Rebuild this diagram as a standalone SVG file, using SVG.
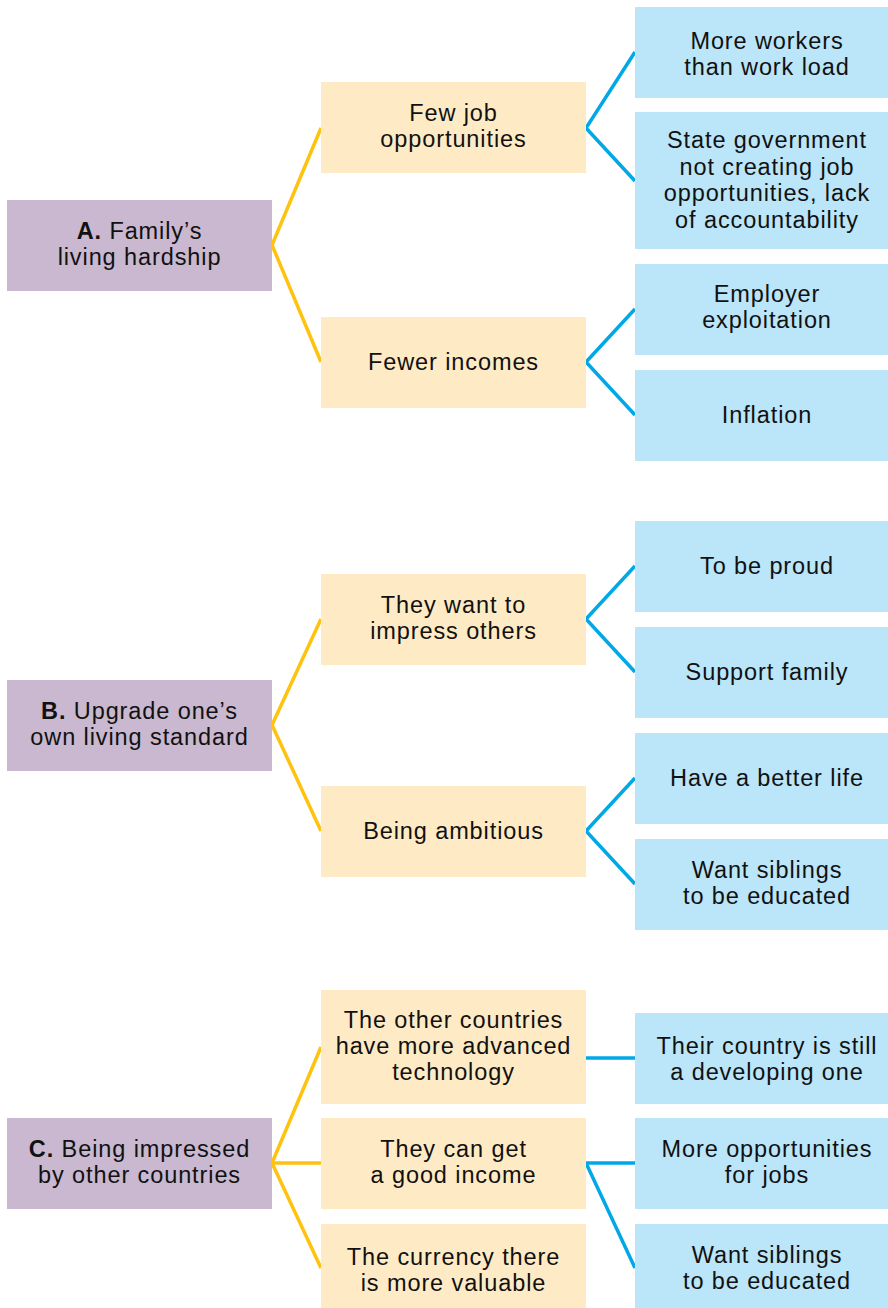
<svg xmlns="http://www.w3.org/2000/svg" width="888" height="1308" viewBox="0 0 888 1308">
<style>
.p{fill:#c9b8d0}
.t{fill:#feebc6}
.b{fill:#bbe5f8}
text{font-family:"Liberation Sans",Arial,sans-serif;font-size:23.5px;fill:#111;text-anchor:middle;letter-spacing:0.9px}
.y{stroke:#ffc20e;stroke-width:3.5;fill:none}
.c{stroke:#00a8e6;stroke-width:3.5;fill:none}
</style>
<rect width="888" height="1308" fill="#fff"/>
<g id="connectors">
<polyline class="y" points="321,128 272,245 321,362"/>
<polyline class="c" points="635,52 586,128 635,181"/>
<polyline class="c" points="635,309 586,362 635,415"/>
<polyline class="y" points="321,619 272,725 321,831"/>
<polyline class="c" points="635,566 586,619 635,672"/>
<polyline class="c" points="635,778 586,831 635,884"/>
<polyline class="y" points="321,1047 272,1163 321,1268"/>
<line class="y" x1="272" y1="1163" x2="321" y2="1163"/>
<line class="c" x1="586" y1="1058" x2="635" y2="1058"/>
<polyline class="c" points="635,1163 586,1163 635,1268"/>
</g>
<g id="A">
<rect class="p" x="7" y="200" width="265" height="91"/>
<text x="139.5" y="239"><tspan font-weight="bold">A.</tspan> Family’s</text>
<text x="139.5" y="265">living hardship</text>
</g>
<g id="A1">
<rect class="t" x="321" y="82" width="265" height="91"/>
<text x="453.5" y="121">Few job</text>
<text x="453.5" y="147">opportunities</text>
</g>
<g id="A2">
<rect class="t" x="321" y="317" width="265" height="91"/>
<text x="453.5" y="370">Fewer incomes</text>
</g>
<g id="A1a">
<rect class="b" x="635" y="7" width="253" height="91"/>
<text x="767" y="49">More workers</text>
<text x="767" y="75">than work load</text>
</g>
<g id="A1b">
<rect class="b" x="635" y="112" width="253" height="137"/>
<text x="767" y="148">State government</text>
<text x="767" y="175">not creating job</text>
<text x="767" y="201">opportunities, lack</text>
<text x="767" y="228">of accountability</text>
</g>
<g id="A2a">
<rect class="b" x="635" y="264" width="253" height="91"/>
<text x="767" y="302">Employer</text>
<text x="767" y="328">exploitation</text>
</g>
<g id="A2b">
<rect class="b" x="635" y="370" width="253" height="91"/>
<text x="767" y="423">Inflation</text>
</g>
<g id="B">
<rect class="p" x="7" y="680" width="265" height="91"/>
<text x="139.5" y="719"><tspan font-weight="bold">B.</tspan> Upgrade one’s</text>
<text x="139.5" y="745">own living standard</text>
</g>
<g id="B1">
<rect class="t" x="321" y="574" width="265" height="91"/>
<text x="453.5" y="613">They want to</text>
<text x="453.5" y="639">impress others</text>
</g>
<g id="B2">
<rect class="t" x="321" y="786" width="265" height="91"/>
<text x="453.5" y="839">Being ambitious</text>
</g>
<g id="B1a">
<rect class="b" x="635" y="521" width="253" height="91"/>
<text x="767" y="574">To be proud</text>
</g>
<g id="B1b">
<rect class="b" x="635" y="627" width="253" height="91"/>
<text x="767" y="680">Support family</text>
</g>
<g id="B2a">
<rect class="b" x="635" y="733" width="253" height="91"/>
<text x="767" y="786">Have a better life</text>
</g>
<g id="B2b">
<rect class="b" x="635" y="839" width="253" height="91"/>
<text x="767" y="878">Want siblings</text>
<text x="767" y="904">to be educated</text>
</g>
<g id="C">
<rect class="p" x="7" y="1118" width="265" height="91"/>
<text x="139.5" y="1157"><tspan font-weight="bold">C.</tspan> Being impressed</text>
<text x="139.5" y="1183">by other countries</text>
</g>
<g id="C1">
<rect class="t" x="321" y="990" width="265" height="114"/>
<text x="453.5" y="1028">The other countries</text>
<text x="453.5" y="1054">have more advanced</text>
<text x="453.5" y="1080">technology</text>
</g>
<g id="C2">
<rect class="t" x="321" y="1118" width="265" height="91"/>
<text x="453.5" y="1157">They can get</text>
<text x="453.5" y="1183">a good income</text>
</g>
<g id="C3">
<rect class="t" x="321" y="1224" width="265" height="84"/>
<text x="453.5" y="1265">The currency there</text>
<text x="453.5" y="1291">is more valuable</text>
</g>
<g id="C1a">
<rect class="b" x="635" y="1013" width="253" height="91"/>
<text x="767" y="1054">Their country is still</text>
<text x="767" y="1080">a developing one</text>
</g>
<g id="C2a">
<rect class="b" x="635" y="1118" width="253" height="91"/>
<text x="767" y="1157">More opportunities</text>
<text x="767" y="1183">for jobs</text>
</g>
<g id="C2b">
<rect class="b" x="635" y="1224" width="253" height="84"/>
<text x="767" y="1263">Want siblings</text>
<text x="767" y="1289">to be educated</text>
</g>
</svg>
